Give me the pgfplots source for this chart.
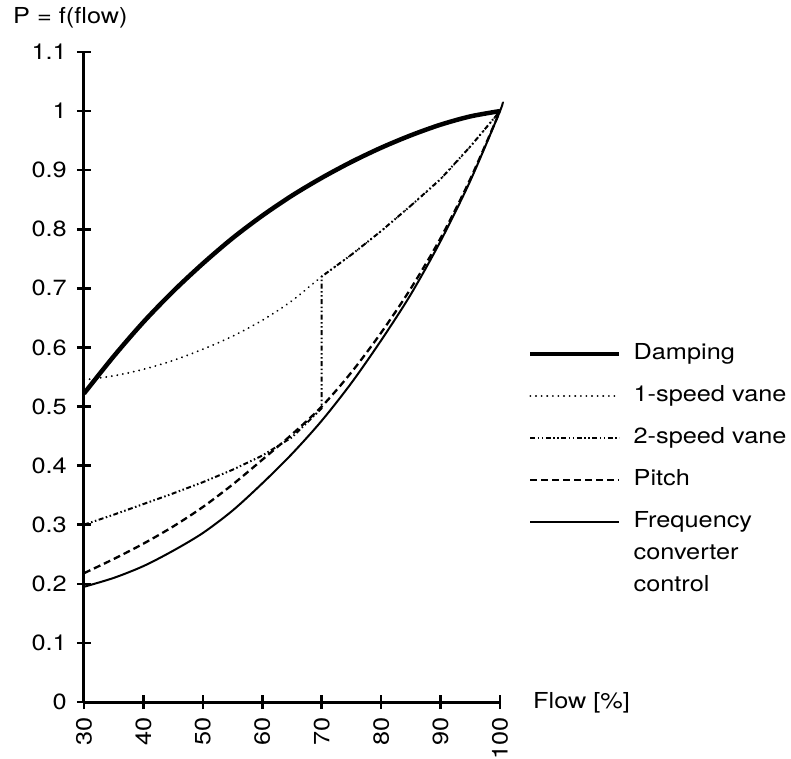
\documentclass[border=0pt]{standalone}
\usepackage{pgfplots}
\pgfplotsset{compat=1.18}
\usepackage{fontspec}
\setmainfont{TeX Gyre Heros}[FakeStretch=1.15]
\begin{document}
\begin{tikzpicture}[font=\fontsize{22}{26}\selectfont]
\begin{axis}[
  at={(0pt,0pt)}, anchor=south west,
  scale only axis, width=416pt, height=650pt,
  xmin=30, xmax=100, ymin=0, ymax=1.1,
  axis lines=left,
  axis line style={-, line width=3pt, black},
  xtick={30,40,50,60,70,80,90,100},
  ytick={0,0.1,0.2,0.3,0.4,0.5,0.6,0.7,0.8,0.9,1,1.1},
  yticklabels={0,0.1,0.2,0.3,0.4,0.5,0.6,0.7,0.8,0.9,1,1.1},
  tick align=center, major tick length=14pt,
  tick style={line width=2.5pt, black},
  xticklabel style={rotate=90, anchor=east, inner sep=0pt, xshift=-8pt},
  yticklabel style={anchor=east, inner sep=0pt, xshift=-10pt},
  /pgf/number format/assume math mode=true,
  clip=false,
  legend style={at={(axis cs:104.7,0.606)}, anchor=north west, draw=none, fill=none,
    inner sep=0pt, row sep=22pt, column sep=12pt,
    nodes={inner sep=0pt, text height=15pt, text depth=5pt}},
  legend cell align=left,
  legend image code/.code={\draw[#1] (0pt,0pt) -- (89pt,0pt);},
]
\addplot[black, line width=4.5pt, smooth] coordinates {
 (30,0.522) (35,0.585) (40,0.643) (45,0.695) (50,0.742) (55,0.785) (60,0.823)
 (65,0.857) (70,0.887) (75,0.914) (80,0.938) (85,0.959) (90,0.977) (95,0.991) (100,1.0)};
\addlegendentry{Damping}
\addplot[black, line width=2pt, line cap=round, dash pattern=on 0.1pt off 5.5pt, smooth] coordinates {
 (30,0.545) (35,0.552) (40,0.563) (45,0.578) (50,0.597) (55,0.619) (60,0.646)
 (65,0.679) (70,0.72) (75,0.757) (80,0.797) (85,0.84) (90,0.885) (95,0.94) (100,1.0)};
\addlegendentry{1-speed vane}
\addplot[black, line width=2pt, dash pattern=on 5pt off 2.5pt on 1.5pt off 2.5pt on 1.5pt off 2.5pt] coordinates {
 (30,0.30) (35,0.317) (40,0.335) (45,0.353) (50,0.372) (55,0.393) (60,0.417) (65,0.448) (70,0.497)
 (70,0.72) (75,0.757) (80,0.797) (85,0.84) (90,0.885) (95,0.94) (100,1.0)};
\addlegendentry{2-speed vane}
\addplot[black, line width=2.3pt, dash pattern=on 7pt off 4pt, smooth] coordinates {
 (30,0.218) (35,0.242) (40,0.268) (45,0.297) (50,0.33) (55,0.368) (60,0.41)
 (65,0.453) (70,0.50) (75,0.558) (80,0.625) (85,0.70) (90,0.785) (95,0.885) (100,1.0)};
\addlegendentry{Pitch}
\addplot[black, line width=2pt, smooth] coordinates {
 (30,0.195) (35,0.21) (40,0.23) (45,0.256) (50,0.286) (55,0.324) (60,0.37)
 (65,0.42) (70,0.476) (75,0.54) (80,0.612) (85,0.69) (90,0.78) (95,0.882) (100,1.0) (100.4,1.015)};
\addlegendentry{{\def\arraystretch{1.24}\begin{tabular}[t]{@{}l@{}}Frequency\\converter\\control\end{tabular}}}
\end{axis}
\node[anchor=west, inner sep=0pt] at (-71pt,684pt) {P = f(flow)};
\node[anchor=west, inner sep=0pt] at (449pt,-1pt) {Flow [\%]};
\pgfresetboundingbox
\path[use as bounding box] (-84pt,-56pt) rectangle (707pt,702pt);
\end{tikzpicture}
\end{document}
